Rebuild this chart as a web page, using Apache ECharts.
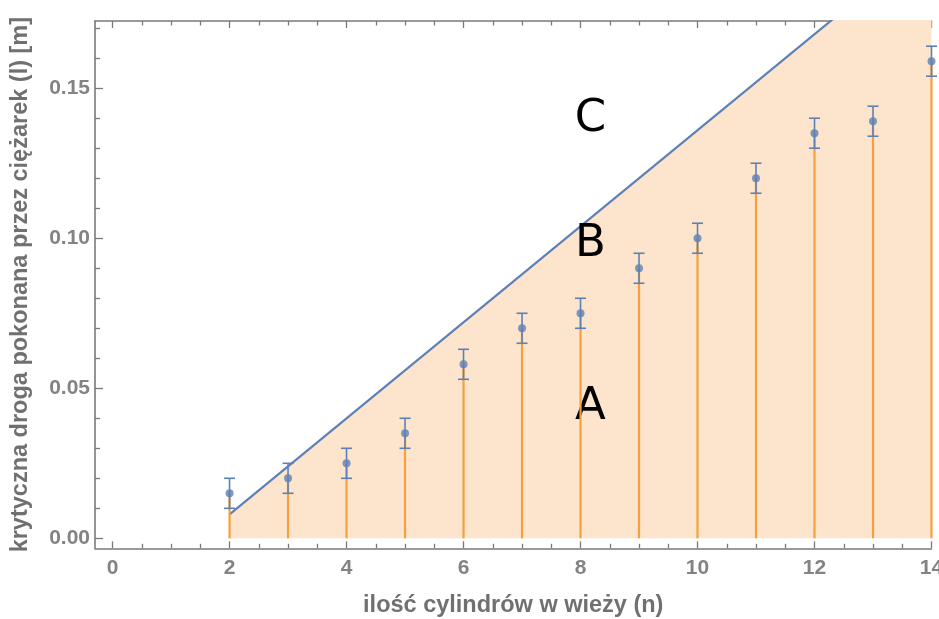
<!DOCTYPE html>
<html><head><meta charset="utf-8">
<script src="https://cdn.jsdelivr.net/npm/echarts@6/dist/echarts.min.js"></script>
<style>html,body{margin:0;padding:0;background:#fff}#c{width:939px;height:619px}</style>
</head><body><div id="c"></div>
<script>
// ---- data ----
const cylinders = [2, 3, 4, 5, 6, 7, 8, 9, 10, 11, 12, 13, 14];
const criticalLength = [0.015, 0.020, 0.025, 0.035, 0.058, 0.070, 0.075, 0.090, 0.100, 0.120, 0.135, 0.139, 0.159];
const lengthError = [0.005, 0.005, 0.005, 0.005, 0.005, 0.005, 0.005, 0.005, 0.005, 0.005, 0.005, 0.005, 0.005];
const boundaryN = [2, 14];
const boundaryL = [0.008, 0.200];
const regionNames = ['A', 'B', 'C'];
const regionN = [8.17, 8.17, 8.17];
const regionL = [0.0438, 0.0979, 0.1397];
const xMajorTicks = [0, 2, 4, 6, 8, 10, 12, 14];
const xMinorTicks = [0.5, 1, 1.5, 2.5, 3, 3.5, 4.5, 5, 5.5, 6.5, 7, 7.5, 8.5, 9, 9.5, 10.5, 11, 11.5, 12.5, 13, 13.5];
const yMajorTicks = [0, 0.05, 0.10, 0.15];
const yMinorTicks = [0.01, 0.02, 0.03, 0.04, 0.06, 0.07, 0.08, 0.09, 0.11, 0.12, 0.13, 0.14, 0.16, 0.17];

const X_MIN = -0.3, X_MAX = 14, Y_MIN = -0.00333, Y_MAX = 0.1724;
const AX = '#7a7a7a';
const BLUE = '#5e81b5';
const ORANGE = '#f5a03c';
const FILL = '#fde4cc';
const tickFont = {color: '#838383', fontFamily: 'Liberation Sans', fontWeight: 'bold', fontSize: 21};
const titleFont = {color: '#707070', fontFamily: 'Liberation Sans', fontWeight: 'bold', fontSize: 23.5};

function xAx(pos, ticks, len, withLine, withLabel, extra) {
  return Object.assign({
    type: 'value', position: pos, min: X_MIN, max: X_MAX, gridIndex: 0,
    axisLine: {show: withLine, onZero: false, lineStyle: {color: AX, width: 1.6}},
    axisTick: {show: true, inside: true, length: len, customValues: ticks, lineStyle: {color: AX, width: 1.3}},
    axisLabel: withLabel ? Object.assign({show: true, customValues: ticks, margin: 9, formatter: v => String(v)}, tickFont) : {show: false},
    splitLine: {show: false}, minorTick: {show: false}
  }, extra || {});
}
function yAx(pos, ticks, len, withLine, withLabel, extra) {
  return Object.assign({
    type: 'value', position: pos, min: Y_MIN, max: Y_MAX, gridIndex: 0,
    axisLine: {show: withLine, onZero: false, lineStyle: {color: AX, width: 1.6}},
    axisTick: {show: true, inside: true, length: len, customValues: ticks, lineStyle: {color: AX, width: 1.3}},
    axisLabel: withLabel ? Object.assign({show: true, customValues: ticks, margin: 5, formatter: v => v.toFixed(2)}, tickFont) : {show: false},
    splitLine: {show: false}, minorTick: {show: false}
  }, extra || {});
}

const chart = echarts.init(document.getElementById('c'));
chart.setOption({
  animation: false,
  grid: {left: 95, right: 7.5, top: 21, bottom: 70.7, containLabel: false, outerBoundsMode: 'none'},
  xAxis: [
    xAx('bottom', xMajorTicks, 7, true, true, {
      name: 'ilość cylindrów w wieży (n)', nameLocation: 'middle', nameGap: 45,
      nameTextStyle: titleFont
    }),
    xAx('bottom', xMinorTicks, 4.5, false, false),
    xAx('top', xMajorTicks, 7, true, false),
    xAx('top', xMinorTicks, 4.5, false, false)
  ],
  yAxis: [
    yAx('left', yMajorTicks, 8, true, true, {
      name: 'krytyczna droga pokonana przez ciężarek (l) [m]', nameLocation: 'middle', nameGap: 62,
      nameTextStyle: titleFont
    }),
    yAx('left', yMinorTicks, 5, false, false)
  ],
  series: [
    {
      name: 'boundary', type: 'line', xAxisIndex: 0, yAxisIndex: 0, clip: true,
      data: boundaryN.map((n, i) => [n, boundaryL[i]]),
      showSymbol: false, symbol: 'none',
      lineStyle: {color: BLUE, width: 2.2},
      areaStyle: {color: FILL, opacity: 1, origin: 0},
      z: 1
    },
    {
      name: 'regions', type: 'custom', xAxisIndex: 0, yAxisIndex: 0,
      data: regionNames.map((t, i) => [regionN[i], regionL[i], t]),
      renderItem: (params, api) => {
        const p = api.coord([api.value(0), api.value(1)]);
        return {type: 'text', x: p[0], y: p[1],
          style: {text: regionNames[params.dataIndex], fill: '#000', fontSize: 45, fontFamily: 'DejaVu Sans', align: 'center', verticalAlign: 'middle'}};
      },
      z: 2
    },
    {
      name: 'stems', type: 'custom', xAxisIndex: 0, yAxisIndex: 0,
      data: cylinders.map((n, i) => [n, criticalLength[i]]),
      renderItem: (params, api) => {
        const a = api.coord([api.value(0), 0]);
        const b = api.coord([api.value(0), api.value(1)]);
        return {type: 'line', shape: {x1: a[0], y1: a[1], x2: b[0], y2: b[1]}, style: {stroke: ORANGE, lineWidth: 2.2}};
      },
      z: 3
    },
    {
      name: 'errors', type: 'custom', xAxisIndex: 0, yAxisIndex: 0,
      data: cylinders.map((n, i) => [n, criticalLength[i], lengthError[i]]),
      renderItem: (params, api) => {
        const x = api.value(0), v = api.value(1), e = api.value(2);
        const t = api.coord([x, v + e]), b = api.coord([x, v - e]);
        const w = 5.5, st = {stroke: BLUE, lineWidth: 1.6};
        return {type: 'group', children: [
          {type: 'line', shape: {x1: t[0], y1: t[1], x2: b[0], y2: b[1]}, style: st},
          {type: 'line', shape: {x1: t[0] - w, y1: t[1], x2: t[0] + w, y2: t[1]}, style: st},
          {type: 'line', shape: {x1: b[0] - w, y1: b[1], x2: b[0] + w, y2: b[1]}, style: st}
        ]};
      },
      z: 4
    },
    {
      name: 'points', type: 'scatter', xAxisIndex: 0, yAxisIndex: 0,
      data: cylinders.map((n, i) => [n, criticalLength[i]]),
      symbol: 'circle', symbolSize: 8, itemStyle: {color: BLUE}, z: 5
    }
  ]
});
</script>
</body></html>
